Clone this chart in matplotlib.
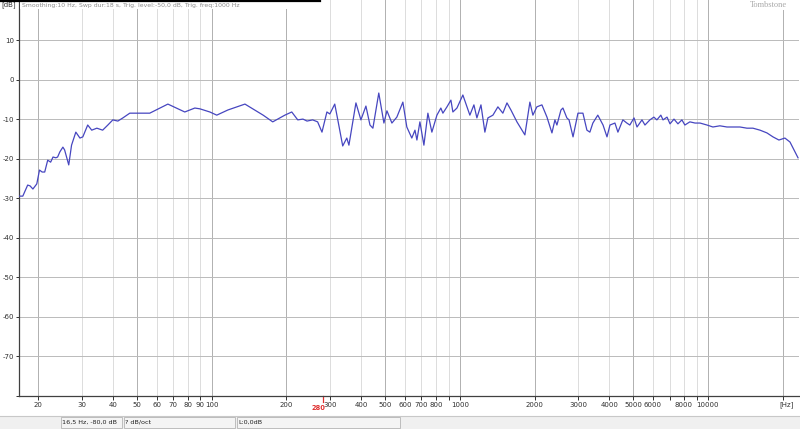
import matplotlib
matplotlib.use('Agg')
import matplotlib.pyplot as plt
import matplotlib.transforms as mtransforms
from matplotlib.patches import Rectangle
from matplotlib.lines import Line2D
from matplotlib.ticker import NullLocator

# frequency response (Hz, dB)
freq = [16.7, 17.3, 18.1, 18.5, 19.0, 19.7, 20.2, 20.7, 21.2, 21.8,
        22.4, 22.9, 23.5, 23.9, 24.4, 25.1, 25.5, 26.5, 27.2, 28.3,
        29.4, 30.2, 31.6, 32.8, 34.4, 36.3, 38.1, 39.9, 41.8, 43.8,
        46.7, 51.3, 56.2, 66.5, 77.8, 85.4, 89.5, 98.2, 104.7, 116,
        136, 149, 161, 176, 197, 210, 222, 233, 242, 255,
        267, 278, 291, 299, 313, 322, 337, 350, 357, 381,
        399, 418, 434, 446, 471, 494, 508, 532, 557, 589,
        611, 640, 659, 671, 690, 716, 743, 771, 808, 838,
        854, 887, 920, 937, 973, 1028, 1097, 1139, 1171, 1216,
        1261, 1297, 1359, 1423, 1490, 1548, 1606, 1698, 1828, 1915,
        1969, 2043, 2141, 2244, 2350, 2416, 2461, 2555, 2602, 2699,
        2754, 2858, 2992, 3133, 3251, 3342, 3436, 3597, 3776, 3917,
        4027, 4217, 4335, 4539, 4710, 4842, 5035, 5176, 5420, 5572,
        5834, 6053, 6223, 6457, 6589, 6839, 7031, 7295, 7568, 7852,
        8072, 8453, 8872, 9290, 9910, 10470, 11170, 11930, 12610, 13460,
        14360, 15180, 16210, 17290, 18280, 19320, 20420, 21410, 22430, 23070]
level = [-29.4, -29.4, -26.6, -26.8, -27.6, -26.3, -22.8, -23.3, -23.3, -20.3,
         -20.8, -19.5, -19.7, -19.5, -18.2, -17.0, -17.7, -21.5, -16.5, -13.2,
         -14.7, -14.4, -11.4, -12.7, -12.2, -12.7, -11.4, -10.1, -10.4, -9.6,
         -8.4, -8.4, -8.4, -6.1, -8.1, -7.1, -7.3, -8.1, -8.9, -7.6,
         -6.1, -7.6, -8.9, -10.6, -8.9, -8.1, -10.1, -9.9, -10.4, -10.1,
         -10.6, -13.2, -8.1, -8.6, -6.1, -10.1, -16.7, -14.7, -16.5, -5.8,
         -10.1, -6.6, -11.4, -12.2, -3.3, -10.9, -7.8, -10.9, -9.4, -5.6,
         -11.9, -14.7, -12.7, -15.2, -10.6, -16.5, -8.4, -13.2, -8.9, -7.1,
         -8.4, -6.8, -5.1, -8.1, -7.1, -3.8, -8.9, -6.3, -9.6, -6.3,
         -13.2, -9.6, -8.9, -6.8, -8.4, -5.8, -7.6, -10.6, -13.9, -5.6,
         -8.9, -6.8, -6.3, -9.4, -13.4, -10.1, -11.4, -7.6, -7.1, -9.6,
         -10.1, -14.4, -8.4, -8.4, -12.7, -13.2, -10.9, -8.9, -11.4, -14.4,
         -11.4, -10.9, -13.2, -10.1, -10.9, -11.4, -9.6, -11.9, -10.1, -11.4,
         -10.1, -9.4, -10.1, -8.9, -10.1, -9.4, -11.1, -9.9, -11.1, -10.1,
         -11.4, -10.6, -10.9, -10.9, -11.4, -11.9, -11.6, -11.9, -11.9, -11.9,
         -12.2, -12.2, -12.7, -13.4, -14.4, -15.2, -14.7, -15.7, -18.2, -19.7]

x_ticks = [20, 30, 40, 50, 60, 70, 80, 90, 100, 200, 300, 400, 500, 600, 700, 800, 900,
           1000, 2000, 3000, 4000, 5000, 6000, 7000, 8000, 9000, 10000, 20000]
x_labels = ['20', '30', '40', '50', '60', '70', '80', '90', '100', '200', '300', '400',
            '500', '600', '700', '800', '', '1000', '2000', '3000', '4000', '5000',
            '6000', '', '8000', '', '10000', '']
y_ticks = [-80, -70, -60, -50, -40, -30, -20, -10, 0, 10, 20]
y_labels = ['', '-70', '-60', '-50', '-40', '-30', '-20', '-10', '0', '10', '']
cursor_freq = 280
header = 'Smoothing:10 Hz, Swp dur:18 s, Trig. level:-50,0 dB, Trig. freq:1000 Hz'
status = ['16,5 Hz, -80,0 dB', '? dB/oct', 'L:0,0dB']

W, H = 800, 429
fig = plt.figure(figsize=(W / 100, H / 100), dpi=100)
fig.patch.set_facecolor('white')
ax = fig.add_axes([19 / W, 33 / H, 780 / W, 396 / H])
ax.set_xscale('log')
ax.set_xlim(16.7, 23280)
ax.set_ylim(-80, 20.25)

# grid
for f in x_ticks:
    lead = f / 10 ** (len(str(f)) - 1)
    col = '#b0b0b0' if lead in (1, 2, 5) else '#dcdcdc'
    ax.axvline(f, color=col, lw=0.7, zorder=1)
for v in y_ticks[1:-1]:
    ax.axhline(v, color='#bababa', lw=0.7, zorder=1)

ax.plot(freq, level, color='#4646c0', lw=0.9, zorder=3)

ax.set_xticks(x_ticks)
ax.set_xticklabels(x_labels)
ax.xaxis.set_minor_locator(NullLocator())
ax.set_yticks(y_ticks)
ax.set_yticklabels(y_labels)
ax.tick_params(axis='x', length=3, width=0.7, pad=1.5, labelsize=5, colors='#303030')
ax.tick_params(axis='y', length=2.5, width=0.7, pad=0.8, labelsize=5, colors='#303030')
for s in ('top', 'right'):
    ax.spines[s].set_visible(False)
for s in ('left', 'bottom'):
    ax.spines[s].set_color('#404040')
    ax.spines[s].set_linewidth(0.9)

# cursor marker
tr = mtransforms.blended_transform_factory(ax.transData, fig.transFigure)
ax.add_line(Line2D([cursor_freq, cursor_freq], [(H - 396) / H, (H - 402) / H],
                   transform=tr, color='#e03030', lw=0.9, clip_on=False))


def px(x, y):
    return x / W, (H - y) / H


fig.text(*px(318, 408.5), str(cursor_freq), color='#e03030',
         fontsize=4.8, fontweight='bold', ha='center', va='center')

# header strip
fig.add_artist(Rectangle(px(20, 9), 300 / W, 9 / H, transform=fig.transFigure,
                         facecolor='white', edgecolor='none', zorder=5))
fig.add_artist(Line2D([0, 320 / W], [(H - 0.8) / H] * 2, transform=fig.transFigure,
                      color='black', lw=1.6, zorder=6))
fig.text(*px(22, 5), header, fontsize=4.4, color='#8c8c8c', va='center', ha='left', zorder=7)
fig.text(*px(1, 5), '[dB]', fontsize=5, color='#303030', va='center', ha='left')
fig.add_artist(Rectangle(px(742, 10), 56 / W, 10 / H, transform=fig.transFigure,
                         facecolor='white', edgecolor='none', zorder=5))
fig.text(*px(768, 5), 'Tombstone', fontsize=6, family='Liberation Serif',
         color='#a8a8a8', va='center', ha='center', zorder=7)
fig.text(*px(787, 405), '[Hz]', fontsize=5, color='#303030', va='center', ha='center')

# status bar
fig.add_artist(Rectangle((0, 0), 1, 13 / H, transform=fig.transFigure,
                         facecolor='#f0f0f0', edgecolor='none', zorder=4))
fig.add_artist(Line2D([0, 1], [13 / H] * 2, transform=fig.transFigure,
                      color='#c8c8c8', lw=0.8, zorder=5))
boxes = [(61, 122), (124, 235), (237, 400)]
for (x0, x1), txt in zip(boxes, status):
    fig.add_artist(Rectangle(px(x0, 428), (x1 - x0) / W, 11 / H, transform=fig.transFigure,
                             facecolor='#f4f4f4', edgecolor='#b4b4b4', lw=0.6, zorder=5))
    fig.text(*px(x0 + 1.5, 422.5), txt, fontsize=4.6, color='#202020',
             va='center', ha='left', zorder=6)

fig.savefig('out.png', dpi=100, facecolor='white')
